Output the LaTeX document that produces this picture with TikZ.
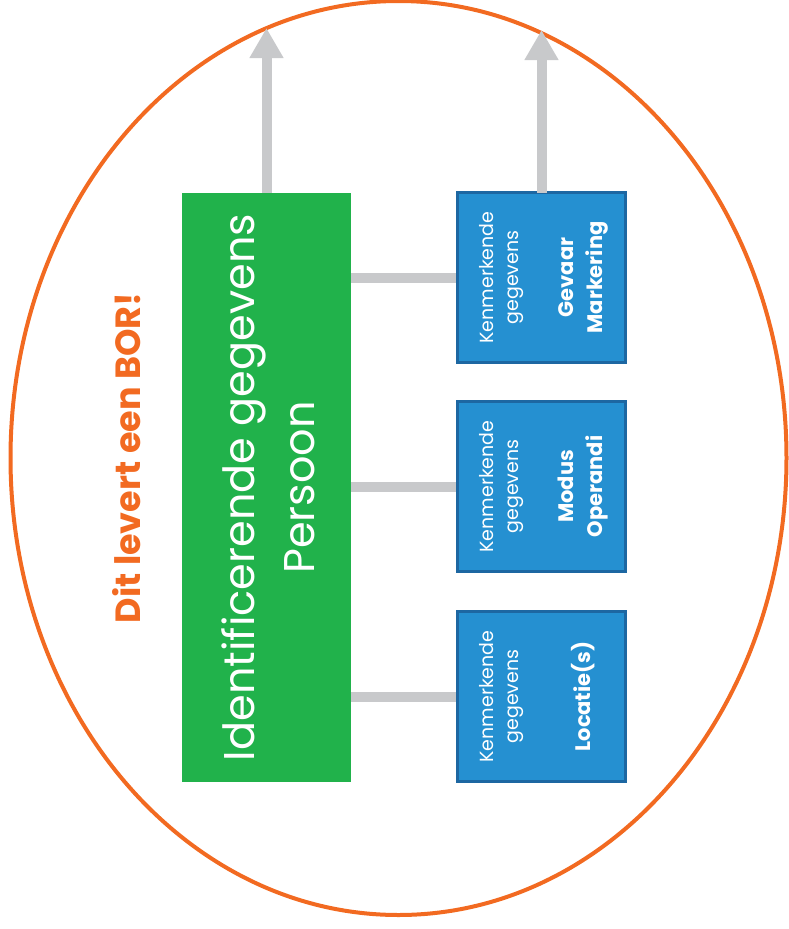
\documentclass[tikz,border=0pt]{standalone}
\usepackage{fontspec}
\setmainfont{Poppins}
\usepackage{tikz}
\usetikzlibrary{arrows.meta,positioning}
\definecolor{borOranje}{HTML}{F26A21}
\definecolor{persGroen}{HTML}{21B24B}
\definecolor{kenBlauw}{HTML}{2590D1}
\definecolor{kenRand}{HTML}{1D67A2}
\definecolor{lijnGrijs}{HTML}{C8C9CB}

\begin{document}
\begin{tikzpicture}[x=1pt,y=-1pt,
        persoonbox/.style={fill=persGroen, minimum width=169pt, minimum height=589pt, inner sep=0pt},
        kenbox/.style={fill=kenBlauw, draw=kenRand, line width=3pt, minimum width=168pt, minimum height=170pt, inner sep=0pt},
        kleintekst/.style={text=white, rotate=90, align=center, font=\fontsize{19}{25}\selectfont},
        vettekst/.style={text=white, rotate=90, align=center, font=\bfseries\fontsize{21}{29}\selectfont},
        verbinding/.style={draw=lijnGrijs, line width=10pt},
        pijl/.style={draw=lijnGrijs, line width=10pt, -{Triangle[width=32pt, length=30pt]}}]
    \useasboundingbox (0,0) rectangle (789,929);
    \draw[borOranje, line width=4pt] (398.5,458) ellipse [x radius=388, y radius=457];

    \node[persoonbox] (persoon) at (266.5,487.5) {};
    \node[text=white, rotate=90, align=center, font=\fontsize{43}{60}\selectfont] (persoontekst) at ([xshift=2pt]persoon.center) {Identificerende gegevens\\Persoon};

    \node[kenbox] (gevaar) at (541.5,277.5) {};
    \node[kenbox] (modus) at (541.5,486.5) {};
    \node[kenbox] (locatie) at (541.5,696.5) {};

    \foreach \blok/\naam in {gevaar/{Gevaar\\Markering}, modus/{Modus\\Operandi}, locatie/{Locatie(s)}}{
        \node[kleintekst] (\blok-ken) at ([xshift=-40pt]\blok.center) {Kenmerkende\\gegevens};
        \node[vettekst] (\blok-naam) at ([xshift=42pt]\blok.center) {\naam};
        \draw[verbinding] (persoon.east |- \blok.west) -- (\blok.west);
    };

    \coordinate (persoontop) at (266.5,28);
    \coordinate (gevaartop) at (541.5,30);
    \draw[pijl] (persoon.north) -- (persoontop);
    \draw[pijl] ([yshift=-1.5pt]gevaar.north) -- (gevaartop);

    \node[text=borOranje, rotate=90, font=\bfseries\fontsize{35}{40}\selectfont] (bor) at (127,458) {Dit levert een BOR!};
\end{tikzpicture}
\end{document}
